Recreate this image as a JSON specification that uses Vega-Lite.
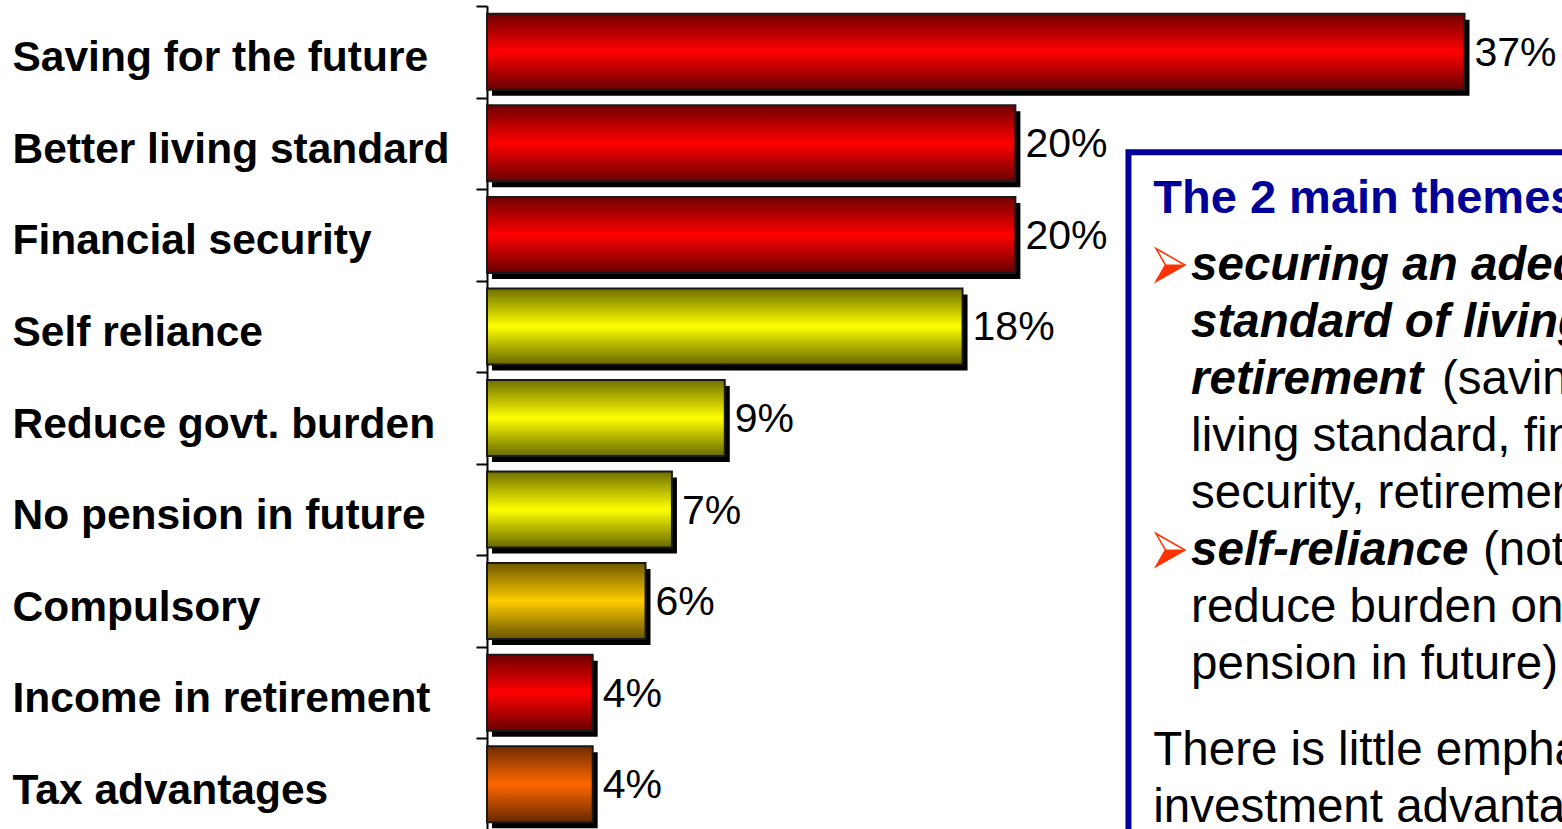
{
  "$schema": "https://vega.github.io/schema/vega-lite/v6.json",
  "autosize": {"type": "none"},
  "padding": {"left": 487, "top": 6, "right": 0, "bottom": 0},
  "width": 1075,
  "height": 824,
  "background": "white",
  "config": {"font": "Liberation Sans", "view": {"stroke": null}},
  "datasets": {
    "bars": [
      {"reason": "Saving for the future", "share": 0.37, "theme": "Standard of living"},
      {"reason": "Better living standard", "share": 0.20, "theme": "Standard of living"},
      {"reason": "Financial security", "share": 0.20, "theme": "Standard of living"},
      {"reason": "Self reliance", "share": 0.18, "theme": "Self-reliance"},
      {"reason": "Reduce govt. burden", "share": 0.09, "theme": "Self-reliance"},
      {"reason": "No pension in future", "share": 0.07, "theme": "Self-reliance"},
      {"reason": "Compulsory", "share": 0.06, "theme": "Compulsory"},
      {"reason": "Income in retirement", "share": 0.04, "theme": "Standard of living"},
      {"reason": "Tax advantages", "share": 0.04, "theme": "Tax"}
    ],
    "notes": [
      {"line": 0, "role": "heading", "text": "The 2 main themes are:"},
      {"line": 1, "role": "bullet", "text": "➢"},
      {"line": 1, "role": "emphasis", "text": "securing an adequate"},
      {"line": 2, "role": "emphasis", "text": "standard of living in"},
      {"line": 3, "role": "emphasis", "text": "retirement"},
      {"line": 3, "role": "detail", "text": "(saving for the future, better"},
      {"line": 4, "role": "body", "text": "living standard, financial"},
      {"line": 5, "role": "body", "text": "security, retirement income)"},
      {"line": 6, "role": "bullet", "text": "➢"},
      {"line": 6, "role": "emphasis", "text": "self-reliance"},
      {"line": 6, "role": "detail", "text": "(not relying on the state,"},
      {"line": 7, "role": "body", "text": "reduce burden on government, no"},
      {"line": 8, "role": "body", "text": "pension in future)"},
      {"line": 9.5, "role": "closing", "text": "There is little emphasis on tax or"},
      {"line": 10.5, "role": "closing", "text": "investment advantages"}
    ]
  },
  "resolve": {"scale": {"y": "independent"}, "axis": {"y": "independent"}},
  "layer": [
    {
      "data": {"name": "bars"},
      "encoding": {
        "y": {
          "field": "reason", "type": "nominal", "sort": null,
          "scale": {"paddingInner": 0, "paddingOuter": 0},
          "axis": {
            "title": null, "labelFont": "Liberation Sans", "labelFontWeight": "bold",
            "labelFontSize": 42.5, "labelColor": "black", "labelAlign": "left",
            "labelBaseline": "middle", "labelPadding": 464, "labelOffset": 6,
            "labelLimit": 700, "tickSize": 11, "tickWidth": 2, "tickColor": "black",
            "domainColor": "black", "domainWidth": 2, "tickBand": "extent", "grid": false
          }
        },
        "x": {"field": "share", "type": "quantitative", "scale": {"domain": [0, 0.4069], "nice": false}, "axis": null}
      },
      "layer": [
        {"mark": {"type": "bar", "fill": "black", "height": {"band": 0.83}, "xOffset": 5, "yOffset": 6}},
        {
          "transform": [{"filter": "datum.theme == 'Standard of living'"}],
          "mark": {"type": "bar", "height": {"band": 0.83}, "stroke": "#1a1a1a", "strokeWidth": 2,
            "fill": {"gradient": "linear", "x1": 0, "y1": 0, "x2": 0, "y2": 1,
              "stops": [{"offset": 0, "color": "#700000"}, {"offset": 0.5, "color": "#ff0000"}, {"offset": 1, "color": "#680000"}]}}
        },
        {
          "transform": [{"filter": "datum.theme == 'Self-reliance'"}],
          "mark": {"type": "bar", "height": {"band": 0.83}, "stroke": "#1a1a1a", "strokeWidth": 2,
            "fill": {"gradient": "linear", "x1": 0, "y1": 0, "x2": 0, "y2": 1,
              "stops": [{"offset": 0, "color": "#707000"}, {"offset": 0.5, "color": "#ffff00"}, {"offset": 1, "color": "#686800"}]}}
        },
        {
          "transform": [{"filter": "datum.theme == 'Compulsory'"}],
          "mark": {"type": "bar", "height": {"band": 0.83}, "stroke": "#1a1a1a", "strokeWidth": 2,
            "fill": {"gradient": "linear", "x1": 0, "y1": 0, "x2": 0, "y2": 1,
              "stops": [{"offset": 0, "color": "#705a00"}, {"offset": 0.5, "color": "#ffcc00"}, {"offset": 1, "color": "#685400"}]}}
        },
        {
          "transform": [{"filter": "datum.theme == 'Tax'"}],
          "mark": {"type": "bar", "height": {"band": 0.83}, "stroke": "#1a1a1a", "strokeWidth": 2,
            "fill": {"gradient": "linear", "x1": 0, "y1": 0, "x2": 0, "y2": 1,
              "stops": [{"offset": 0, "color": "#702c00"}, {"offset": 0.5, "color": "#ff6600"}, {"offset": 1, "color": "#682800"}]}}
        },
        {
          "mark": {"type": "text", "align": "left", "baseline": "middle", "dx": 10, "dy": 2, "fontSize": 41, "font": "Liberation Sans", "color": "black"},
          "encoding": {"text": {"field": "share", "type": "quantitative", "format": ".0%"}}
        }
      ]
    },
    {
      "data": {"name": "notes"},
      "layer": [
        {
          "data": {"values": [{"note": "box"}]},
          "mark": {"type": "rect", "fill": "white", "stroke": "#000099", "strokeWidth": 6},
          "encoding": {
            "x": {"datum": 0.2428, "type": "quantitative", "scale": {"domain": [0, 0.4069], "nice": false}, "axis": null},
            "x2": {"datum": 0.45},
            "y": {"datum": -1.24, "type": "quantitative", "scale": {"domain": [-3.807, 10.649], "reverse": true, "nice": false, "zero": false}, "axis": null},
            "y2": {"datum": 13}
          }
        },
        {
          "transform": [{"filter": "datum.role == 'heading'"}],
          "mark": {"type": "text", "align": "left", "baseline": "alphabetic", "dy": -10, "fontSize": 47, "fontWeight": "bold", "font": "Liberation Sans", "color": "#000099"},
          "encoding": {
            "x": {"datum": 0.2522, "type": "quantitative", "scale": {"domain": [0, 0.4069], "nice": false}, "axis": null},
            "y": {"field": "line", "type": "quantitative", "scale": {"domain": [-3.807, 10.649], "reverse": true, "nice": false, "zero": false}, "axis": null},
            "text": {"field": "text"}
          }
        },
        {
          "transform": [{"filter": "datum.role == 'bullet'"}],
          "mark": {"type": "point", "shape": "M-0.88,-1L0.88,0L-0.88,1L-0.3,0Z", "size": 1089, "filled": true, "fill": "white", "stroke": "#ff3300", "strokeWidth": 1.5, "opacity": 1, "yOffset": -15},
          "encoding": {
            "x": {"datum": 0.2587, "type": "quantitative", "scale": {"domain": [0, 0.4069], "nice": false}, "axis": null},
            "y": {"field": "line", "type": "quantitative", "scale": {"domain": [-3.807, 10.649], "reverse": true, "nice": false, "zero": false}, "axis": null}
          }
        },
        {
          "transform": [{"filter": "datum.role == 'bullet'"}],
          "mark": {"type": "point", "shape": "M-0.3,0L0.88,0L-0.88,1Z", "size": 1089, "filled": true, "fill": "#ff3300", "stroke": "#ff3300", "strokeWidth": 1, "opacity": 1, "yOffset": -15},
          "encoding": {
            "x": {"datum": 0.2587, "type": "quantitative", "scale": {"domain": [0, 0.4069], "nice": false}, "axis": null},
            "y": {"field": "line", "type": "quantitative", "scale": {"domain": [-3.807, 10.649], "reverse": true, "nice": false, "zero": false}, "axis": null}
          }
        },
        {
          "transform": [{"filter": "datum.role == 'emphasis'"}],
          "mark": {"type": "text", "align": "left", "baseline": "alphabetic", "fontSize": 47.5, "fontWeight": "bold", "fontStyle": "italic", "font": "Liberation Sans", "color": "black"},
          "encoding": {
            "x": {"datum": 0.2665, "type": "quantitative", "scale": {"domain": [0, 0.4069], "nice": false}, "axis": null},
            "y": {"field": "line", "type": "quantitative", "scale": {"domain": [-3.807, 10.649], "reverse": true, "nice": false, "zero": false}, "axis": null},
            "text": {"field": "text"}
          }
        },
        {
          "transform": [{"filter": "datum.role == 'body'"}],
          "mark": {"type": "text", "align": "left", "baseline": "alphabetic", "fontSize": 47.5, "font": "Liberation Sans", "color": "black"},
          "encoding": {
            "x": {"datum": 0.2665, "type": "quantitative", "scale": {"domain": [0, 0.4069], "nice": false}, "axis": null},
            "y": {"field": "line", "type": "quantitative", "scale": {"domain": [-3.807, 10.649], "reverse": true, "nice": false, "zero": false}, "axis": null},
            "text": {"field": "text"}
          }
        },
        {
          "transform": [{"filter": "datum.role == 'detail' && datum.line == 3"}],
          "mark": {"type": "text", "align": "left", "baseline": "alphabetic", "fontSize": 47.5, "font": "Liberation Sans", "color": "black"},
          "encoding": {
            "x": {"datum": 0.3615, "type": "quantitative", "scale": {"domain": [0, 0.4069], "nice": false}, "axis": null},
            "y": {"field": "line", "type": "quantitative", "scale": {"domain": [-3.807, 10.649], "reverse": true, "nice": false, "zero": false}, "axis": null},
            "text": {"field": "text"}
          }
        },
        {
          "transform": [{"filter": "datum.role == 'detail' && datum.line == 6"}],
          "mark": {"type": "text", "align": "left", "baseline": "alphabetic", "fontSize": 47.5, "font": "Liberation Sans", "color": "black"},
          "encoding": {
            "x": {"datum": 0.3770, "type": "quantitative", "scale": {"domain": [0, 0.4069], "nice": false}, "axis": null},
            "y": {"field": "line", "type": "quantitative", "scale": {"domain": [-3.807, 10.649], "reverse": true, "nice": false, "zero": false}, "axis": null},
            "text": {"field": "text"}
          }
        },
        {
          "transform": [{"filter": "datum.role == 'closing'"}],
          "mark": {"type": "text", "align": "left", "baseline": "alphabetic", "fontSize": 47.5, "font": "Liberation Sans", "color": "black"},
          "encoding": {
            "x": {"datum": 0.2522, "type": "quantitative", "scale": {"domain": [0, 0.4069], "nice": false}, "axis": null},
            "y": {"field": "line", "type": "quantitative", "scale": {"domain": [-3.807, 10.649], "reverse": true, "nice": false, "zero": false}, "axis": null},
            "text": {"field": "text"}
          }
        }
      ]
    }
  ]
}
